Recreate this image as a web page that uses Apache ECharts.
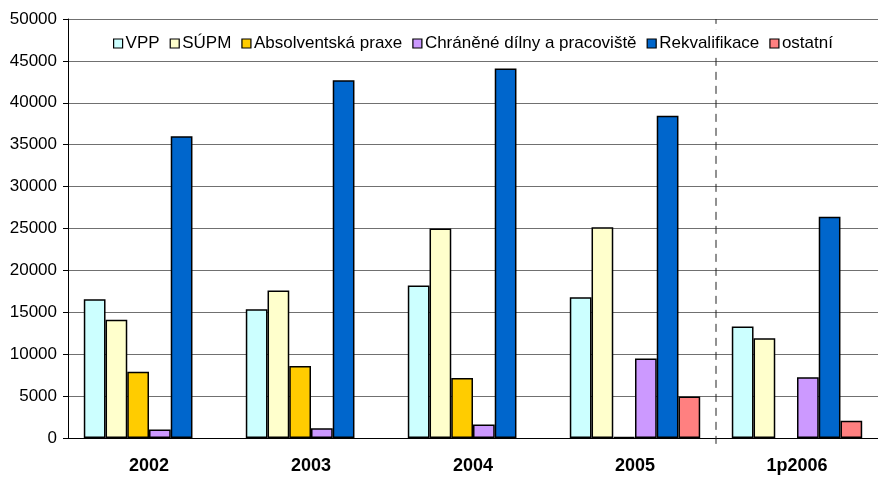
<!DOCTYPE html>
<html><head><meta charset="utf-8">
<script src="https://cdn.jsdelivr.net/npm/echarts@6/dist/echarts.min.js"></script>
<style>html,body{margin:0;padding:0;background:#fff}#c{width:878px;height:478px}</style>
</head><body><div id="c"></div>
<script>
var categories = ['2002', '2003', '2004', '2005', '1p2006'];
var seriesNames = ['VPP', 'SÚPM', 'Absolventská praxe', 'Chráněné dílny a pracoviště', 'Rekvalifikace', 'ostatní'];
var vpp = [16550, 15350, 18200, 16800, 13300];
var supm = [14100, 17600, 25000, 25150, 11900];
var absolventska = [7900, 8600, 7150, 100, null];
var chranene = [1000, 1150, 1600, 9500, 7250];
var rekvalifikace = [36000, 42700, 44100, 38450, 26400];
var ostatni = [null, null, null, 4950, 2050];
var yTicks = [0, 5000, 10000, 15000, 20000, 25000, 30000, 35000, 40000, 45000, 50000];
var dividerAt = [4, 4];          // boundary between 2005 and 1p2006 (in category units)
var dividerRange = [-700, 50000];

var values = [vpp, supm, absolventska, chranene, rekvalifikace, ostatni];
var colors = ['#CCFFFF', '#FFFFCC', '#FFCC00', '#CC99FF', '#0066CC', '#FF8080'];

var series = values.map(function (v, i) {
  return {
    name: seriesNames[i], type: 'bar', data: v,
    barGap: '0%', barCategoryGap: '19.5%',
    itemStyle: {color: colors[i], borderColor: '#000', borderWidth: 1.5}
  };
});
series.push({
  type: 'line', xAxisIndex: 1, silent: true, clip: false, symbol: 'none', z: 1,
  data: [[dividerAt[0], dividerRange[0]], [dividerAt[1], dividerRange[1]]],
  lineStyle: {color: '#222', width: 1, type: [8, 6]}
});

var chart = echarts.init(document.getElementById('c'));
chart.setOption({
  animation: false,
  backgroundColor: '#fff',
  textStyle: {fontFamily: 'Liberation Sans, Arial, sans-serif'},
  legend: {
    top: 30, left: 108, itemWidth: 9, itemHeight: 9, itemGap: 10,
    icon: 'rect', backgroundColor: '#fff', z: 10,
    textStyle: {fontSize: 17, color: '#000', padding: [0, 0, 0, -2]},
    data: seriesNames.map(function (n, i) {
      return {name: n, itemStyle: {color: colors[i], borderColor: '#000', borderWidth: 1.2}};
    })
  },
  grid: {left: 68, right: -5, top: 19, bottom: 40, containLabel: false},
  xAxis: [{
    type: 'category', data: categories,
    axisLine: {lineStyle: {color: '#000', width: 1}},
    axisTick: {show: false},
    axisLabel: {fontSize: 18, fontWeight: 'bold', color: '#000', margin: 19},
    splitLine: {show: false}
  }, {
    type: 'value', min: 0, max: 5, show: false
  }],
  yAxis: {
    type: 'value', min: yTicks[0], max: yTicks[yTicks.length - 1], interval: 5000,
    axisLine: {show: true, lineStyle: {color: '#000', width: 1}},
    axisTick: {show: true, length: 5, lineStyle: {color: '#000'}},
    axisLabel: {fontSize: 17, color: '#000', margin: 11, formatter: function (v) { return String(v); }},
    splitLine: {lineStyle: {color: '#707070', width: 1}}
  },
  series: series
});
</script></body></html>
